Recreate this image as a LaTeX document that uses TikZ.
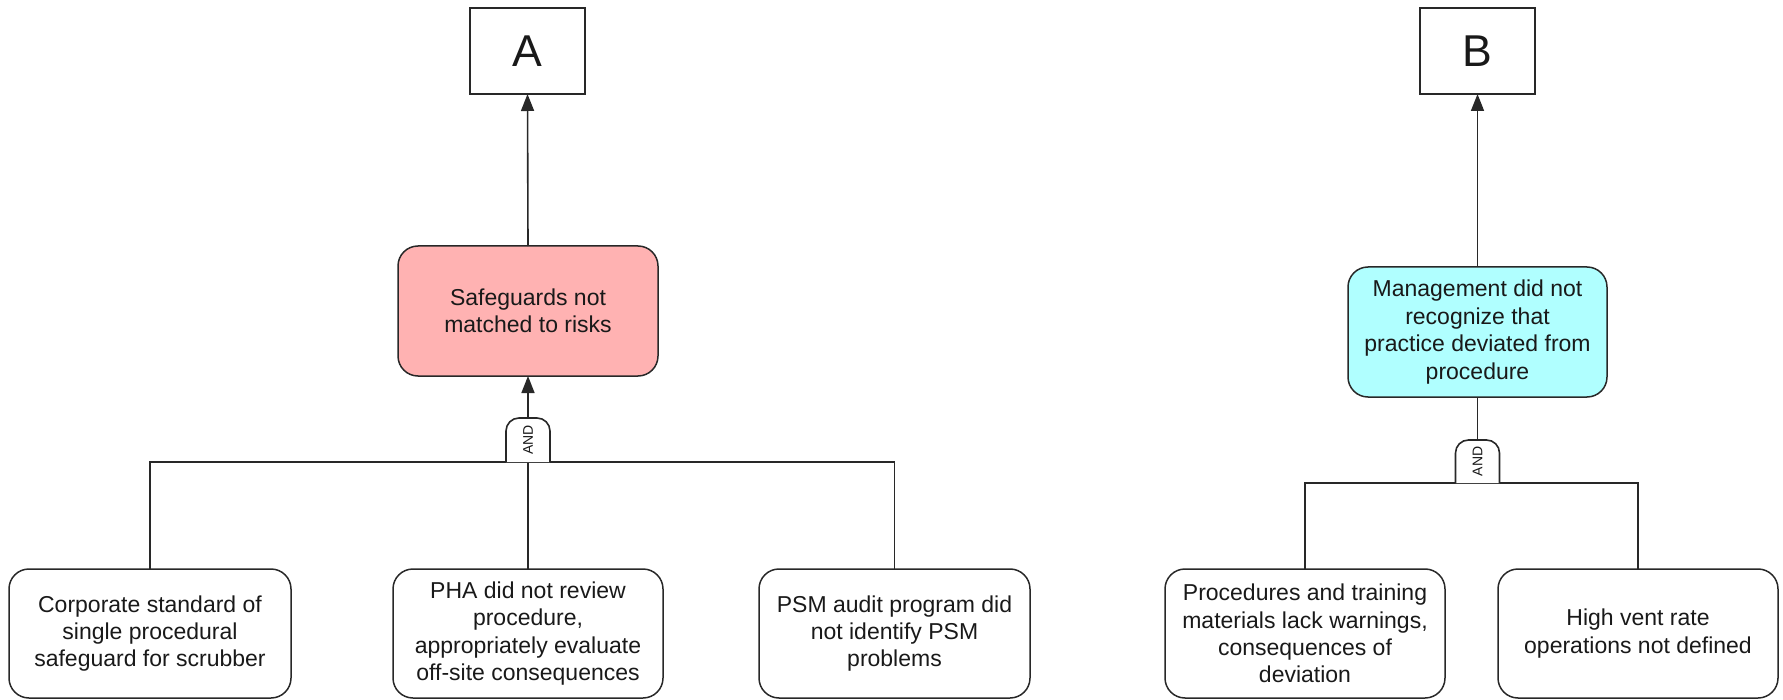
\documentclass[tikz,border=0pt]{standalone}
\usepackage{fontspec}
\setmainfont{Liberation Sans}
\usetikzlibrary{arrows.meta}
\definecolor{pinkfill}{RGB}{255,178,178}
\definecolor{cyanfill}{RGB}{176,255,255}
\definecolor{edge}{RGB}{40,40,40}
\definecolor{txt}{RGB}{25,25,25}
\begin{document}
\begin{tikzpicture}[x=0.5pt,y=-0.5pt,
  every node/.style={inner sep=0pt, outer sep=0pt},
  refbox/.style={draw=edge, line width=0.75pt, fill=white, minimum width=57.5pt, minimum height=43pt, text=txt, font=\fontsize{22.3}{26}\selectfont},
  event/.style={draw=edge, line width=0.75pt, rounded corners=10pt, align=center, text=txt, minimum height=64.5pt, font=\fontsize{11.5}{13.7}\selectfont},
  gatebox/.style={minimum width=22pt, minimum height=22pt},
  gatetext/.style={rotate=90, text=txt, font=\fontsize{7}{8}\selectfont},
  link/.style={draw=edge, line width=0.8pt},
  arr/.style={link, -{Triangle[length=8.5pt,width=6.5pt]}},
]
\useasboundingbox (0,0) rectangle (1783,700);

% ---- left tree ----
\node[refbox] (A) at (527.5,51) {A};
\node[event, fill=pinkfill, minimum width=130pt, minimum height=65pt] (pA) at (528,311) {Safeguards not\\matched to risks};
\node[gatebox] (gA) at (528,440) {};
\node[event, minimum width=141pt] (b1) at (150,633.5) {Corporate standard of\\single procedural\\safeguard for scrubber};
\node[event, minimum width=135pt] (b2) at (528,633.5) {PHA did not review\\procedure,\\appropriately evaluate\\off-site consequences};
\node[event, minimum width=135.5pt] (b3) at (894.5,633.5) {PSM audit program did\\not identify PSM\\problems};

\draw[arr] (pA.north) -- (A.south);
\draw[link] (b1.north) -- (b1.north |- gA.south) -- (b3.north |- gA.south) -- (b3.north);
\draw[link] (b2.north) -- (gA.south);
\draw[link, fill=white, rounded corners=6.5pt] (gA.south west) -- (gA.north west) -- (gA.north east) -- (gA.south east);
\node[gatetext] (gAt) at (gA) {AND};
\draw[arr] (gA.north) -- (pA.south);

% ---- right tree ----
\node[refbox] (B) at (1477.5,51) {B};
\node[event, fill=cyanfill, minimum width=129.5pt, minimum height=65pt] (pB) at (1477.5,332) {Management did not\\recognize that\\practice deviated from\\procedure};
\node[gatebox, minimum height=21.5pt] (gB) at (1477.5,461.5) {};
\node[event, minimum width=140pt] (b4) at (1305,633.5) {Procedures and training\\materials lack warnings,\\consequences of\\deviation};
\node[event, minimum width=140pt] (b5) at (1638,633.5) {High vent rate\\operations not defined};

\draw[arr] (pB.north) -- (B.south);
\draw[link] (pB.south) -- (gB.north);
\draw[link] (b4.north) -- (b4.north |- gB.south) -- (b5.north |- gB.south) -- (b5.north);
\draw[link, fill=white, rounded corners=6.5pt] (gB.south west) -- (gB.north west) -- (gB.north east) -- (gB.south east);
\node[gatetext] (gBt) at (gB) {AND};
\end{tikzpicture}
\end{document}
